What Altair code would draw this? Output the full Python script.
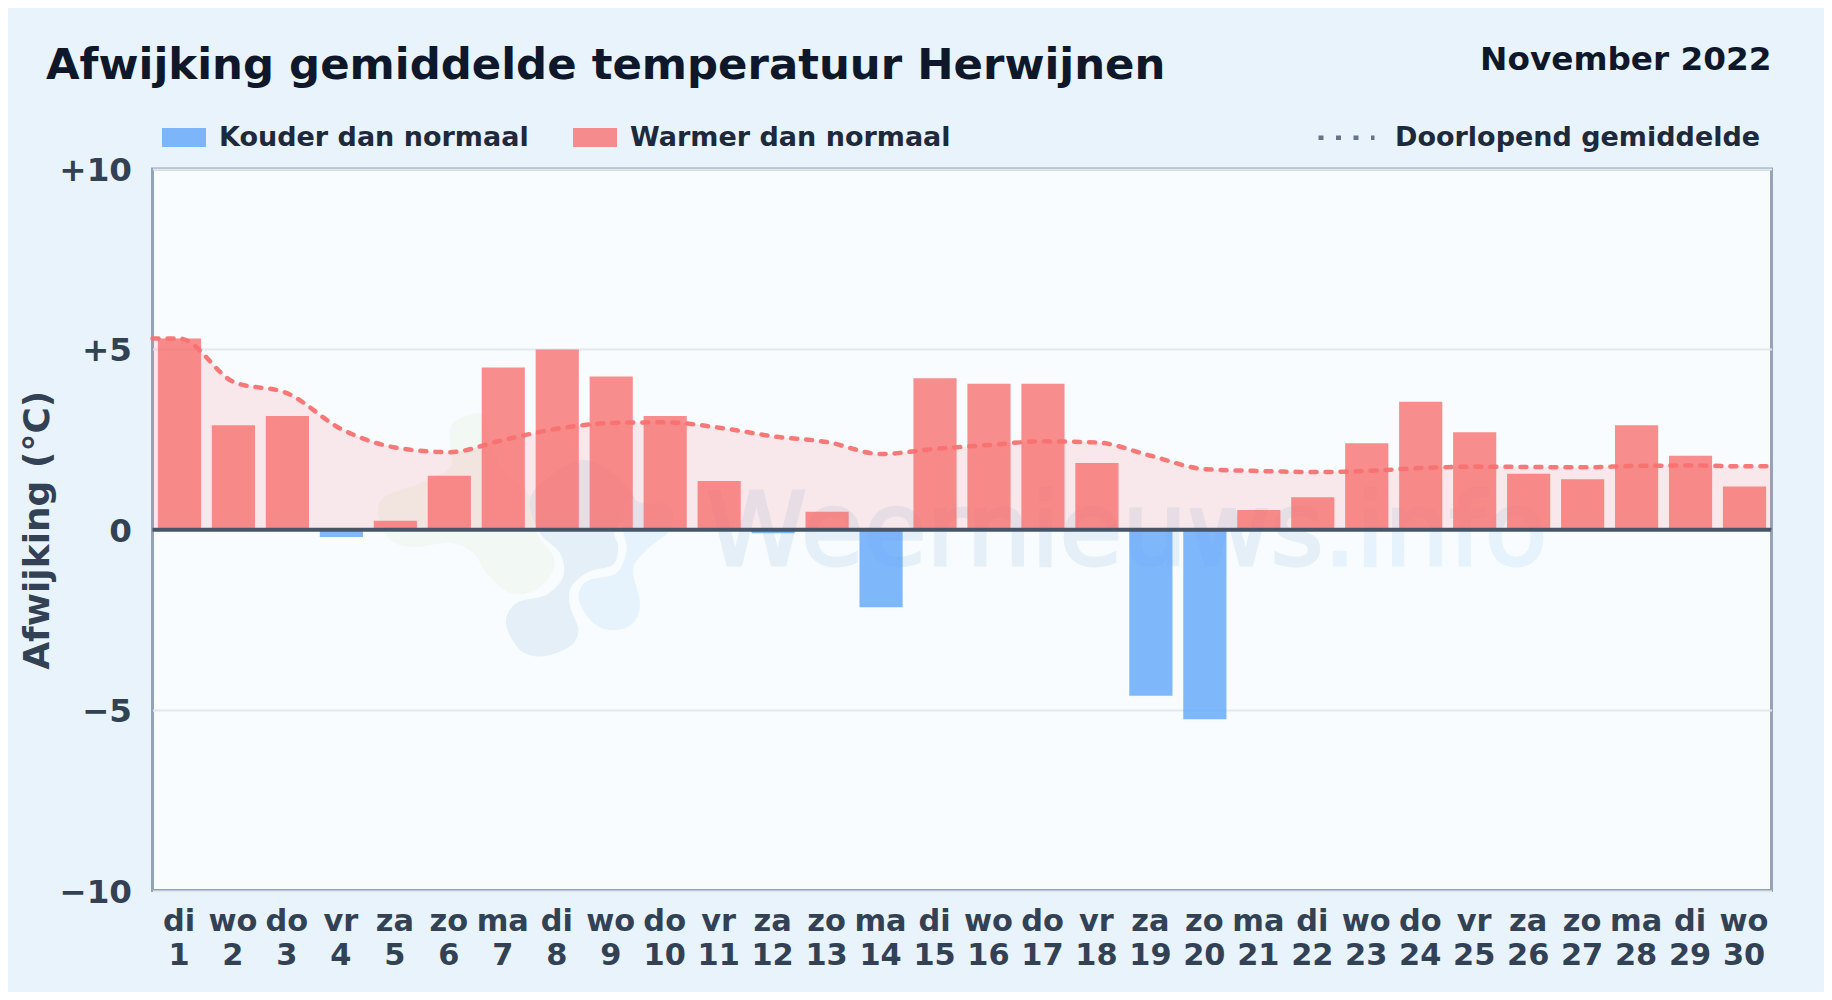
import altair as alt
import pandas as pd

weekdays = ["di","wo","do","vr","za","zo","ma"] * 4 + ["di","wo"]
days = list(range(1, 31))
deviation = [5.3,2.9,3.15,-0.2,0.25,1.5,4.5,5.0,4.25,3.15,1.35,-0.1,0.5,-2.15,4.2,4.05,4.05,1.85,-4.6,-5.25,0.55,0.9,2.4,3.55,2.7,1.55,1.4,2.9,2.05,1.2]
running_days = [0.5] + days + [30.5]
running_mean = [5.3,5.3,4.1,3.78,2.79,2.28,2.15,2.49,2.8,2.96,2.98,2.83,2.59,2.43,2.1,2.24,2.35,2.45,2.42,2.05,1.68,1.63,1.6,1.63,1.71,1.75,1.74,1.73,1.77,1.78,1.76,1.76]

COLD, WARM, AVG = "Kouder dan normaal", "Warmer dan normaal", "Doorlopend gemiddelde"

# logo outlines (traced, local units)
blob_green = [(370,72),(305,105),(300,170),(300,235),(200,285),(105,320),(85,375),(120,450),(190,472),(300,460),(370,490),(410,550),(480,610),(560,600),(610,540),(605,490),(560,430),(540,320),(450,225),(405,90)]
blob_grey = [(700,210),(600,260),(540,330),(570,430),(630,490),(640,560),(590,615),(500,640),(468,700),(510,780),(580,800),(660,770),(685,720),(660,650),(665,590),(720,545),(790,525),(805,470),(795,420),(860,350),(800,260)]
blob_blue = [(830,330),(880,340),(960,350),(960,420),(890,480),(850,540),(870,640),(850,700),(790,722),(730,700),(690,640),(690,600),(720,570),(800,550),(830,480),(820,420)]


def smooth_path(points, cx=520, cy=430, unit=600):
    p = [((x - cx) / unit, (y - cy) / unit) for x, y in points]
    n = len(p)
    d = f"M{p[0][0]:.4f},{p[0][1]:.4f}"
    for i in range(n):
        p0, p1, p2, p3 = p[i-1], p[i], p[(i+1) % n], p[(i+2) % n]
        c1 = (p1[0] + (p2[0]-p0[0])/6, p1[1] + (p2[1]-p0[1])/6)
        c2 = (p2[0] - (p3[0]-p1[0])/6, p2[1] - (p3[1]-p1[1])/6)
        d += f"C{c1[0]:.4f},{c1[1]:.4f} {c2[0]:.4f},{c2[1]:.4f} {p2[0]:.4f},{p2[1]:.4f}"
    return d + "Z"


bars = pd.DataFrame({"day": days, "v": deviation})
bars["lo"] = bars.day - 0.4
bars["hi"] = bars.day + 0.4
bars["zero"] = 0.0
bars["soort"] = [COLD if v < 0 else WARM for v in deviation]
running = pd.DataFrame({"day": running_days, "m": running_mean, "zero": 0.0})

xs = alt.Scale(domain=[0.5, 30.5], nice=False, zero=False)
ys = alt.Scale(domain=[-10, 10], nice=False, zero=False)

names = "[" + ",".join(f"'{w}'" for w in weekdays) + "]"
x_axis = alt.Axis(
    values=days, title=None, grid=False, domain=False, ticks=False,
    labelExpr=f"[{names}[datum.value-1], ''+datum.value]",
    labelFontSize=30.4, labelFont="DejaVu Sans", labelFontWeight="bold", labelColor="#334155",
    labelPadding=16, labelLineHeight=33.5, labelAngle=0, labelOverlap=False, labelFlush=False, labelBound=False,
    labelBaseline="top", labelOffset=-1,
)
y_axis = alt.Axis(
    values=[-10, -5, 0, 5, 10], title="Afwijking (°C)", domain=False, ticks=False,
    labelExpr="datum.value > 0 ? '+' + datum.value : (datum.value < 0 ? '\u2212' + abs(datum.value) : '0')",
    labelFontSize=32.6, labelFont="DejaVu Sans", labelFontWeight="bold", labelColor="#334155", labelPadding=21, labelOffset=1.5,
    titleFontSize=36, titleFont="DejaVu Sans", titleFontWeight="bold", titleColor="#334155", titlePadding=2,
    gridColor="#e2e8f0", gridWidth=2,
)


def X(field):
    return alt.X(field, scale=xs, axis=x_axis)


def Y(field):
    return alt.Y(field, scale=ys, axis=y_axis)


wm = pd.DataFrame({"day": [7.37], "y": [-0.09]})
wm_blobs = [
    alt.Chart(wm).mark_point(filled=True, shape=smooth_path(pts), size=160000, color=c, opacity=1)
    .encode(x=X("day:Q"), y=Y("y:Q"))
    for pts, c in [(blob_green, "#f2f8f3"), (blob_grey, "#e5eff8"), (blob_blue, "#e6f3fd")]
]
wm_txt = pd.DataFrame({"day": [22.2], "y": [-0.97]})
wm_a = alt.Chart(wm_txt).mark_text(text="Weernieuws", fontSize=102, font="DejaVu Sans", color="#e5eff8", stroke="#e5eff8", strokeWidth=3, align="right", baseline="alphabetic").encode(
    x=X("day:Q"), y=Y("y:Q"))
wm_b = alt.Chart(wm_txt).mark_text(text=".info", fontSize=102, font="DejaVu Sans", color="#e6f3fd", stroke="#e6f3fd", strokeWidth=3, align="left", baseline="alphabetic").encode(
    x=X("day:Q"), y=Y("y:Q"))

area = alt.Chart(running).mark_area(interpolate="monotone", color="#f87171", opacity=0.14).encode(
    x=X("day:Q"), y=Y("m:Q"), y2="zero:Q")

bar_layer = alt.Chart(bars).mark_rect(opacity=0.8).encode(
    x=X("lo:Q"), x2="hi:Q",
    y=Y("v:Q"), y2="zero:Q",
    color=alt.Color("soort:N", scale=alt.Scale(domain=[COLD, WARM], range=["#60a5fa", "#f87171"]),
        legend=alt.Legend(orient="none", legendX=9.5, legendY=-53.5, direction="horizontal", columns=2, title=None,
            symbolType="M-1,-0.43H1V0.43H-1Z", symbolSize=1936, symbolStrokeWidth=0, symbolOpacity=0.8,
            labelFontSize=27, labelFont="DejaVu Sans", labelFontWeight="bold", labelColor="#1e293b",
            labelLimit=600, labelOffset=13, columnPadding=44, padding=0)),
)

line = alt.Chart(running).mark_line(interpolate="monotone", color="#f87171", opacity=0.95, strokeWidth=4.5,
                                    strokeDash=[6, 9], strokeCap="round").encode(
    x=X("day:Q"), y=Y("m:Q"))

legend_src = pd.DataFrame({"day": [1], "m": [0.0], "s": [AVG]})
legend_line = alt.Chart(legend_src).mark_line(color="#64748b", strokeWidth=4.5).encode(
    x=X("day:Q"), y=Y("m:Q"),
    strokeDash=alt.StrokeDash("s:N", scale=alt.Scale(domain=[AVG], range=[[5, 12.5]]),
        legend=alt.Legend(orient="none", legendX=1163.5, legendY=-61.7, title=None, symbolType="stroke", symbolSize=3136,
            symbolStrokeColor="#64748b", symbolStrokeWidth=4.5,
            labelFontSize=27, labelFont="DejaVu Sans", labelFontWeight="bold", labelColor="#1e293b",
            labelLimit=600, labelOffset=18, padding=0)),
)

zero_rule = alt.Chart(pd.DataFrame({"z": [0]})).mark_rule(color="#475569", strokeWidth=4).encode(y=Y("z:Q"))

main_title = alt.Chart(pd.DataFrame({"t": ["Afwijking gemiddelde temperatuur Herwijnen"]})).mark_text(
    fontSize=43.4, font="DejaVu Sans", fontWeight="bold", color="#0f172a", align="left", baseline="alphabetic"
).encode(text="t:N", x=alt.value(-106.5), y=alt.value(-90))

period = alt.Chart(pd.DataFrame({"t": ["November 2022"]})).mark_text(
    fontSize=32.7, font="DejaVu Sans", fontWeight="bold", color="#0f172a", align="right", baseline="alphabetic"
).encode(text="t:N", x=alt.value(1619), y=alt.value(-99))

chart = alt.layer(*wm_blobs, wm_a, wm_b, area, bar_layer, line, legend_line, zero_rule, main_title, period).properties(
    width=1619, height=721.5, background="#e8f3fb",
    autosize=alt.AutoSizeParams(type="none"),
    padding={"left": 144.5, "top": 161, "right": 52.5, "bottom": 101.5},
).configure_view(fill="#f8fcff", stroke="#94a3b8", strokeWidth=3)

chart.save("out.html", embed_options={"renderer": "svg", "actions": False})
